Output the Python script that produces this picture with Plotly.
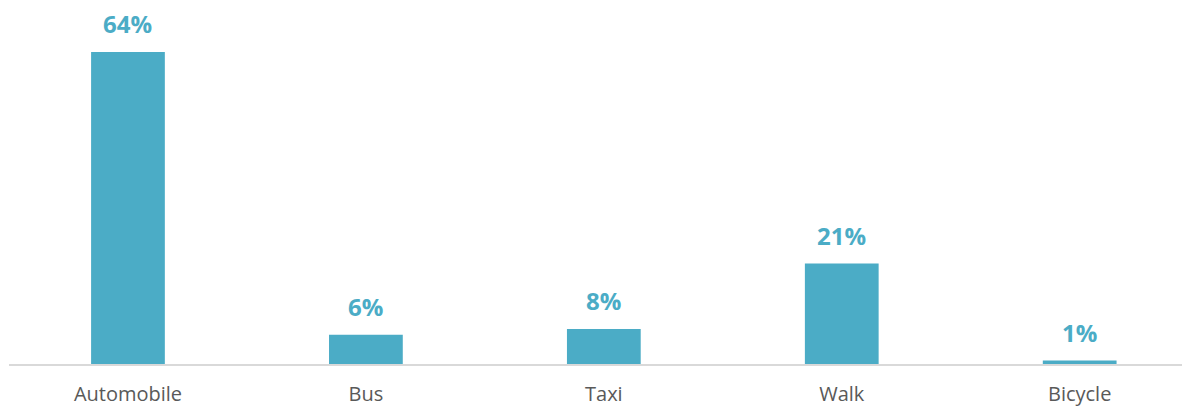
import plotly.graph_objects as go

categories = ["Automobile", "Bus", "Taxi", "Walk", "Bicycle"]
values = [64, 6, 7.2, 20.6, 0.7]
labels = ["64%", "6%", "8%", "21%", "1%"]

BAR = "#4BACC6"

fig = go.Figure()
fig.add_trace(go.Bar(
    x=categories, y=values,
    marker=dict(color=BAR, line=dict(width=0)),
    hoverinfo="skip",
))

for c, v, t in zip(categories, values, labels):
    fig.add_annotation(
        x=c, y=v, text=t, showarrow=False,
        yanchor="bottom", yshift=10,
        font=dict(family="Open Sans", size=24, color=BAR, weight="bold"),
    )

fig.update_layout(
    width=1190, height=408,
    margin=dict(l=9, r=8, t=10, b=44, autoexpand=False),
    paper_bgcolor="white", plot_bgcolor="white",
    bargap=0.69,
    showlegend=False,
    font=dict(family="Open Sans", size=20, color="#595959"),
)
fig.update_xaxes(
    range=[-0.5, 4.43],
    automargin=False,
    showline=True, linecolor="#D9D9D9", linewidth=1.5,
    showgrid=False, zeroline=False, ticks="",
    tickfont=dict(family="Open Sans", size=20, color="#595959"),
    ticklabelstandoff=11,
)
fig.update_yaxes(
    range=[0, 354 / 4.875],
    automargin=False,
    visible=False, showgrid=False, zeroline=False,
)

fig.write_html(
    "out.html",
    config={"displayModeBar": False},
    post_script="document.body.style.margin='0';document.body.style.overflow='hidden';",
)
